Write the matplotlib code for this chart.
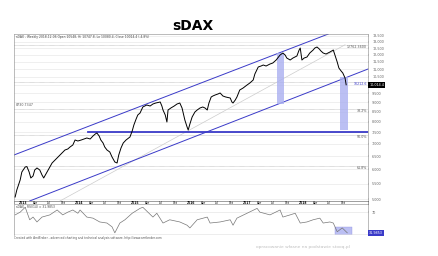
import numpy as np
import matplotlib
matplotlib.use("Agg")
import matplotlib.pyplot as plt
from matplotlib.patches import Rectangle

# weekly sDAX, decimal year / close
price_t = [2012.95, 2012.98, 2013.04, 2013.07, 2013.13, 2013.16, 2013.20, 2013.23, 2013.27, 2013.30,
           2013.34, 2013.39, 2013.43, 2013.46, 2013.52, 2013.57, 2013.61, 2013.68, 2013.75, 2013.80,
           2013.84, 2013.89, 2013.93, 2013.98, 2014.02, 2014.07, 2014.13, 2014.18, 2014.23, 2014.29,
           2014.34, 2014.38, 2014.41, 2014.45, 2014.48, 2014.52, 2014.55, 2014.59, 2014.64, 2014.68,
           2014.73, 2014.77, 2014.80, 2014.84, 2014.88, 2014.93, 2015.00, 2015.04, 2015.07, 2015.11,
           2015.14, 2015.18, 2015.23, 2015.30, 2015.36, 2015.41, 2015.46, 2015.54, 2015.57, 2015.59,
           2015.63, 2015.66, 2015.68, 2015.73, 2015.79, 2015.84, 2015.89, 2015.93, 2015.98, 2016.02,
           2016.04, 2016.07, 2016.11, 2016.16, 2016.20, 2016.25, 2016.30, 2016.34, 2016.38, 2016.41,
           2016.45, 2016.48, 2016.52, 2016.57, 2016.61, 2016.66, 2016.71, 2016.79, 2016.82, 2016.84,
           2016.88, 2016.91, 2016.96, 2017.02, 2017.09, 2017.14, 2017.20, 2017.23, 2017.29, 2017.34,
           2017.38, 2017.43, 2017.50, 2017.55, 2017.61, 2017.68, 2017.73, 2017.77, 2017.80, 2017.86,
           2017.91, 2017.98, 2018.02, 2018.04, 2018.07, 2018.11, 2018.16, 2018.21, 2018.27, 2018.30,
           2018.34, 2018.38, 2018.41, 2018.45, 2018.50, 2018.57, 2018.63, 2018.66, 2018.70, 2018.73,
           2018.77, 2018.80, 2018.84, 2018.86]
price_v = [5072, 5292, 5623, 5902, 6084, 6100, 5902, 5692, 5761, 5974,
           6047, 5974, 5796, 5692, 5902, 6084, 6233, 6386, 6543, 6663,
           6744, 6785, 6867, 6951, 7165, 7122, 7165, 7209, 7253, 7209,
           7341, 7430, 7476, 7341, 7165, 7036, 6867, 6744, 6663, 6464,
           6271, 6233, 6543, 6826, 7036, 7165, 7297, 7567, 7847, 8138,
           8338, 8439, 8752, 8858, 8805, 8912, 8966, 9021, 8805, 8594,
           8338, 7991, 8594, 8699, 8805, 8912, 8966, 8699, 8089, 7753,
           7613, 7895, 8237, 8491, 8594, 8699, 8752, 8699, 8594, 8966,
           9299, 9355, 9412, 9469, 9527, 9355, 9299, 9242, 9021, 8966,
           9131, 9299, 9701, 9820, 10000, 10122, 10308, 10689, 11153, 11221,
           11289, 11221, 11357, 11426, 11636, 11994, 12140, 11994, 11778, 11636,
           11778, 11922, 12363, 12513, 11636, 11778, 11849, 12140, 12363, 12513,
           12590, 12438, 12290, 12140, 12067, 12214, 12363, 11994, 11496, 11085,
           10885, 10754, 10433, 10014]

rsi_t = [2012.95, 2013.04, 2013.13, 2013.21, 2013.27, 2013.34, 2013.43, 2013.57, 2013.70, 2013.80,
         2013.89, 2013.98, 2014.07, 2014.11, 2014.23, 2014.34, 2014.46, 2014.59, 2014.68, 2014.73,
         2014.82, 2014.91, 2015.04, 2015.18, 2015.23, 2015.32, 2015.41, 2015.48, 2015.59, 2015.71,
         2015.89, 2016.02, 2016.07, 2016.20, 2016.38, 2016.43, 2016.61, 2016.79, 2016.84, 2016.91,
         2017.09, 2017.27, 2017.32, 2017.50, 2017.68, 2017.73, 2017.86, 2017.95, 2018.04, 2018.16,
         2018.27, 2018.39, 2018.45, 2018.57, 2018.63, 2018.70, 2018.79, 2018.88]
rsi_v = [65, 70, 79, 56, 61, 52, 61, 65, 74, 65,
         70, 74, 68, 74, 61, 59, 52, 50, 43, 32,
         50, 56, 68, 77, 79, 70, 61, 68, 50, 56,
         52, 46, 41, 56, 61, 50, 52, 56, 46, 59,
         68, 77, 70, 65, 74, 61, 65, 68, 50, 52,
         56, 59, 50, 52, 50, 34, 41, 32]

# trend channel (start / end points)
upper_t, upper_v = [2012.93, 2018.54], [6543, 13622]
lower_t, lower_v = [2013.21, 2019.25], [4951, 11018]
mid_t, mid_v = [2013.75, 2018.84], [4950, 12762]
support_level = 7500
support_start = 2014.25

fib_levels = [12762, 10209, 8647, 7385, 6124]
fib_labels = ["12762.3600", "", "38.2%", "50.0%", "61.8%"]

# measured moves (shaded boxes): t0, t1, low, high
boxes = [(2017.63, 2017.75, 8912, 12140), (2018.75, 2018.89, 7613, 10500)]
rsi_box = (2018.66, 2018.96, 28, 43)

years = [2013, 2014, 2015, 2016, 2017, 2018]
months = ["Apr", "Jul", "Oct"]
ticks = list(range(5000, 14000, 500))

blue = "#3a3ac8"
fig = plt.figure(figsize=(4.39, 2.56), dpi=100)
fig.text(0.44, 0.9, "sDAX", fontsize=10, fontweight="bold", ha="center", va="center")

ax = fig.add_axes([0.0319, 0.2148, 0.8064, 0.6523])
ax.set_yscale("log")
ax.set_xlim(2012.93, 2019.25)
ax.set_ylim(4950, 13622)

for lv in ticks:
    ax.axhline(lv, color="#e4e4e4", lw=0.4, zorder=0)
for lv, lb in zip(fib_levels, fib_labels):
    ax.axhline(lv, color="#999999", lw=0.4, ls=(0, (1, 1)), zorder=1)
    if lb:
        ax.text(2019.23, lv, lb, fontsize=2.3, color="#555555", ha="right", va="top")
ax.text(2012.96, 8730, "8730.7347", fontsize=2.3, color="#555555", va="bottom")

ax.plot(mid_t, mid_v, color="#cccccc", lw=0.5, zorder=1)
ax.plot(upper_t, upper_v, color=blue, lw=0.7, zorder=2)
ax.plot(lower_t, lower_v, color=blue, lw=0.7, zorder=2)
ax.plot([support_start, 2019.25], [support_level, support_level], color=blue, lw=1.3, zorder=2)
ax.text(2019.23, 10209, "10212.6", fontsize=2.3, color=blue, ha="right", va="top")

for t0, t1, lo, hi in boxes:
    ax.add_patch(Rectangle((t0, lo), t1 - t0, hi - lo, facecolor="#aab0f0", edgecolor="none", alpha=0.8, zorder=2))

ax.plot(price_t, price_v, color="black", lw=0.7, zorder=3)

ax.yaxis.tick_right()
ax.set_yticks(ticks)
ax.set_yticklabels(["" if v == 10000 else f"{v:,}" for v in ticks])
ax.yaxis.set_minor_locator(matplotlib.ticker.NullLocator())
ax.tick_params(axis="y", labelsize=2.4, colors="#666666", length=1, width=0.3, pad=2)
ax.set_xticks([])
for s in ax.spines.values():
    s.set_color("#888888")
    s.set_linewidth(0.4)
ax.text(2012.96, 13550, "sDAX - Weekly 2018-12-06 Open 10548, Hi 10747.8, Lo 10080.4, Close 10014.4 (-4.8%)",
        fontsize=2.2, color="#444444", va="top")
ax.text(2019.27, price_v[-1], f"{price_v[-1]:,}.4", fontsize=2.4, color="white", va="center",
        bbox=dict(boxstyle="square,pad=0.25", fc="black", ec="none"), clip_on=False)

# date band
band = fig.add_axes([0.0319, 0.2031, 0.8064, 0.0117])
band.set_xlim(ax.get_xlim())
band.set_xticks([])
band.set_yticks([])
for s in band.spines.values():
    s.set_color("#555555")
    s.set_linewidth(0.4)
for y in years:
    band.text(y + 0.01, 0.5, str(y), fontsize=2.2, fontweight="bold", va="center")
    for i, m in enumerate(months):
        band.text(y + 0.25 * (i + 1) + 0.01, 0.5, m, fontsize=2.2, va="center")

# RSI panel
rx = fig.add_axes([0.0319, 0.0820, 0.8064, 0.1211])
rx.set_xlim(ax.get_xlim())
rx.set_ylim(28, 85)
rx.axhline(70, color="#e0e0e0", lw=0.4)
rx.axhline(30, color="#e0e0e0", lw=0.4)
t0, t1, lo, hi = rsi_box
rx.add_patch(Rectangle((t0, lo), t1 - t0, hi - lo, facecolor="#aab0f0", edgecolor="#8888dd", lw=0.3, alpha=0.8))
rx.plot(rsi_t, rsi_v, color="#777777", lw=0.5)
rx.yaxis.tick_right()
rx.set_yticks([70])
rx.tick_params(axis="y", labelsize=2.4, colors="#666666", length=1, width=0.3, pad=2)
rx.set_xticks([])
for s in rx.spines.values():
    s.set_color("#888888")
    s.set_linewidth(0.4)
rx.spines["bottom"].set_visible(False)
rx.text(2012.96, 83, "sDAX - RSI(14) = 31.9853", fontsize=2.2, color="#444444", va="top")
rx.text(2019.27, 32, "31.9853", fontsize=2.4, color="white", va="center",
        bbox=dict(boxstyle="square,pad=0.25", fc=blue, ec="none"), clip_on=False)

fig.text(0.0319, 0.072, "Created with AmiBroker - advanced charting and technical analysis software. http://www.amibroker.com",
         fontsize=2.1, color="#555555", va="center")
fig.text(0.69, 0.035, "opracowanie własne na podstawie stooq.pl", fontsize=3.2, color="#c0c0c0",
         ha="center", va="center")

fig.savefig("out.png", dpi=100)
